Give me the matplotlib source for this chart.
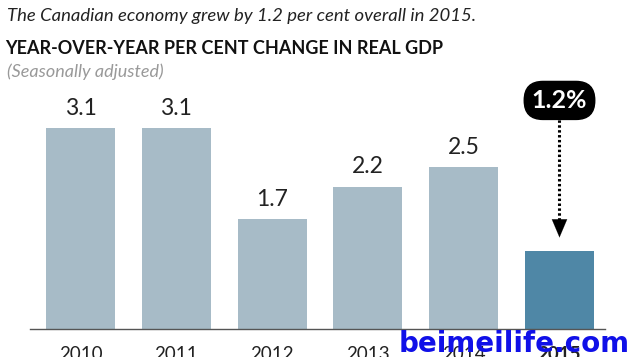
import matplotlib.pyplot as plt

plt.rcParams['font.family'] = ['Lato', 'DejaVu Sans']

years = ['2010', '2011', '2012', '2013', '2014', '2015']
growth = [3.1, 3.1, 1.7, 2.2, 2.5, 1.2]
value_labels = ['3.1', '3.1', '1.7', '2.2', '2.5', '']
callout = '1.2%'

light = '#a7bbc7'
dark = '#4f87a6'
colors = [light] * 5 + [dark]

fig = plt.figure(figsize=(6.35, 3.57), dpi=100)
ax = fig.add_axes([30 / 635, 28 / 357, 575 / 635, 259 / 357])

x = list(range(len(years)))
ax.bar(x, growth, width=0.72, color=colors)
ax.set_xlim(-0.527, 5.475)
ax.set_ylim(0, 4)

for xi, v, lab in zip(x, growth, value_labels):
    if lab:
        ax.text(xi, v + 0.14, lab, ha='center', va='bottom', fontsize=16.5, color='#222222')

for s in ['top', 'right', 'left']:
    ax.spines[s].set_visible(False)
ax.spines['bottom'].set_color('#555555')
ax.spines['bottom'].set_linewidth(1)
ax.set_yticks([])
ax.set_xticks(x)
ax.set_xticklabels(years, fontsize=13.5, color='#222222')
ax.get_xticklabels()[-1].set_fontweight('bold')
ax.tick_params(axis='x', length=0, pad=12)

# callout box with dotted arrow down to the 2015 bar
ax.text(5, 3.53, callout, ha='center', va='center', fontsize=18, fontweight='bold',
        color='white', clip_on=False,
        bbox=dict(boxstyle='round,pad=0.3,rounding_size=0.75', fc='black', ec='black'))
ax.plot([5, 5], [1.6, 3.28], color='black', lw=2.2, ls=(0, (0.8, 0.8)))
ax.annotate('', xy=(5, growth[-1] + 0.17), xytext=(5, growth[-1] + 0.55),
            arrowprops=dict(arrowstyle='-|>,head_length=1.3,head_width=0.55',
                            color='black', lw=0.1))

fig.text(7 / 635, 1 - 16 / 357, 'The Canadian economy grew by 1.2 per cent overall in 2015.',
         fontsize=13.3, style='italic', color='#222222', va='center')
fig.text(5 / 635, 1 - 48 / 357, 'YEAR-OVER-YEAR PER CENT CHANGE IN REAL GDP',
         fontsize=13, fontweight='bold', color='#111111', va='center')
fig.text(7 / 635, 1 - 72 / 357, '(Seasonally adjusted)',
         fontsize=13, style='italic', color='#999999', va='center')

fig.text(630 / 635, 1 - 352 / 357, 'beimeilife.com', fontsize=20, fontweight='heavy',
         color='#1010e8', ha='right', va='baseline', family=['DejaVu Sans'])

fig.savefig('out.png', dpi=100)
